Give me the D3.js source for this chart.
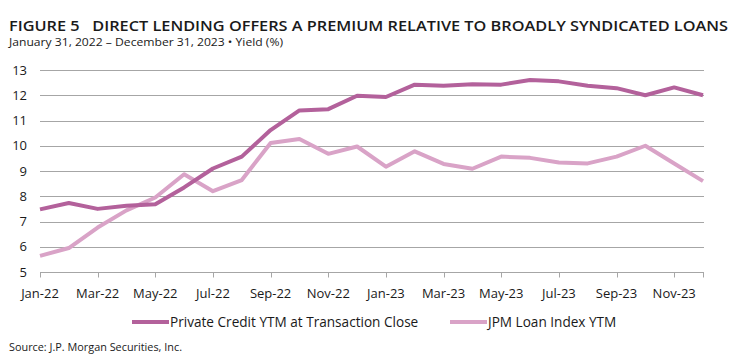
<!DOCTYPE html>
<html>
<head>
<meta charset="utf-8">
<script src="https://cdn.jsdelivr.net/npm/d3@7"></script>
<style>
  body { margin: 0; background: #fff; }
  svg text { fill: #1a1a1a; font-family: "Open Sans", "DejaVu Sans", sans-serif; }
  .title { white-space: pre; }
</style>
</head>
<body>
<svg width="744" height="363"></svg>
<script>
var months = ["Jan-22","Feb-22","Mar-22","Apr-22","May-22","Jun-22","Jul-22","Aug-22","Sep-22","Oct-22","Nov-22","Dec-22",
              "Jan-23","Feb-23","Mar-23","Apr-23","May-23","Jun-23","Jul-23","Aug-23","Sep-23","Oct-23","Nov-23","Dec-23"];
var privateCredit = [7.48, 7.73, 7.50, 7.62, 7.68, 8.35, 9.10, 9.57, 10.62, 11.40, 11.45, 11.98,
                     11.93, 12.42, 12.38, 12.44, 12.42, 12.60, 12.55, 12.38, 12.28, 12.00, 12.31, 12.00];
var jpmLoan = [5.64, 5.95, 6.76, 7.44, 7.95, 8.87, 8.20, 8.64, 10.11, 10.27, 9.68, 9.97,
               9.17, 9.78, 9.28, 9.09, 9.57, 9.52, 9.34, 9.30, 9.57, 10.00, 9.30, 8.60];
var yTicks = [5, 6, 7, 8, 9, 10, 11, 12, 13];
var seriesNames = ["Private Credit YTM at Transaction Close", "JPM Loan Index YTM"];
var colors = ["#b3619b", "#d9a3c7"];

var svg = d3.select("svg"),
    margin = {top: 70, right: 40, bottom: 91, left: 40},
    width = 744 - margin.left - margin.right,
    height = 363 - margin.top - margin.bottom;

svg.append("text").attr("class", "title")
  .attr("x", 9).attr("y", 31)
  .attr("textLength", 719).attr("lengthAdjust", "spacingAndGlyphs")
  .style("font-size", "15px").style("font-weight", "600")
  .text("FIGURE 5   DIRECT LENDING OFFERS A PREMIUM RELATIVE TO BROADLY SYNDICATED LOANS");
svg.append("text").attr("class", "title")
  .attr("x", 9).attr("y", 46)
  .attr("textLength", 274).attr("lengthAdjust", "spacingAndGlyphs")
  .style("font-size", "11.5px")
  .text("January 31, 2022 \u2013 December 31, 2023 \u2022 Yield (%)");

var g = svg.append("g").attr("transform", "translate(" + margin.left + "," + margin.top + ")");

var x = d3.scalePoint().domain(months).range([0, width - 1]);
var y = d3.scaleLinear().domain([5, 13]).range([height, 0]);

// gridlines
g.selectAll(".grid").data(yTicks.slice(1)).enter().append("line")
  .attr("x1", 0).attr("x2", width)
  .attr("y1", function(d) { return Math.round(y(d)) + 0.5; })
  .attr("y2", function(d) { return Math.round(y(d)) + 0.5; })
  .attr("stroke", "#a6a6a6").attr("stroke-width", 1);

// y labels
g.selectAll(".ylab").data(yTicks).enter().append("text")
  .attr("x", -13).attr("y", function(d) { return y(d); })
  .attr("dy", "0.35em").attr("text-anchor", "end")
  .style("font-size", "13px")
  .text(function(d) { return d; });

// x axis
var xAxis = g.append("g")
  .attr("transform", "translate(0," + (Math.round(height) + 0.5) + ")");
xAxis.append("line").attr("x1", 0).attr("x2", width).attr("stroke", "#a6a6a6");
var tickMonths = months.filter(function(d, i) { return i % 2 === 0; });
xAxis.selectAll(".tick").data(tickMonths).enter().append("line")
  .attr("x1", function(d) { return Math.round(x(d)) + 0.5; })
  .attr("x2", function(d) { return Math.round(x(d)) + 0.5; })
  .attr("y1", 0).attr("y2", 5).attr("stroke", "#a6a6a6");
xAxis.append("line").attr("x1", width - 0.5).attr("x2", width - 0.5).attr("y1", 0).attr("y2", 5).attr("stroke", "#a6a6a6");
xAxis.selectAll("text").data(tickMonths).enter().append("text")
  .attr("x", function(d) { return x(d); }).attr("y", 25)
  .attr("text-anchor", "middle")
  .style("font-size", "13px")
  .text(function(d) { return d; });

var line = d3.line()
  .x(function(d, i) { return x(months[i]); })
  .y(function(d) { return y(d); });

[jpmLoan, privateCredit].forEach(function(s, k) {
  g.append("path").datum(s)
    .attr("fill", "none")
    .attr("stroke", k === 0 ? colors[1] : colors[0])
    .attr("stroke-width", 4)
    .attr("stroke-linejoin", "round")
    .attr("d", line);
});

// legend
var legend = svg.append("g");
var legendPos = [132, 450];
seriesNames.forEach(function(name, i) {
  legend.append("line")
    .attr("x1", legendPos[i]).attr("x2", legendPos[i] + 37)
    .attr("y1", 322).attr("y2", 322)
    .attr("stroke", colors[i]).attr("stroke-width", 4);
  legend.append("text")
    .attr("x", legendPos[i] + 38).attr("y", 322).attr("dy", "0.35em")
    .style("font-size", "13.6px")
    .text(name);
});

svg.append("text")
  .attr("x", 9).attr("y", 351)
  .attr("textLength", 173).attr("lengthAdjust", "spacingAndGlyphs")
  .style("font-size", "10.5px")
  .text("Source: J.P. Morgan Securities, Inc.");
</script>
</body>
</html>
